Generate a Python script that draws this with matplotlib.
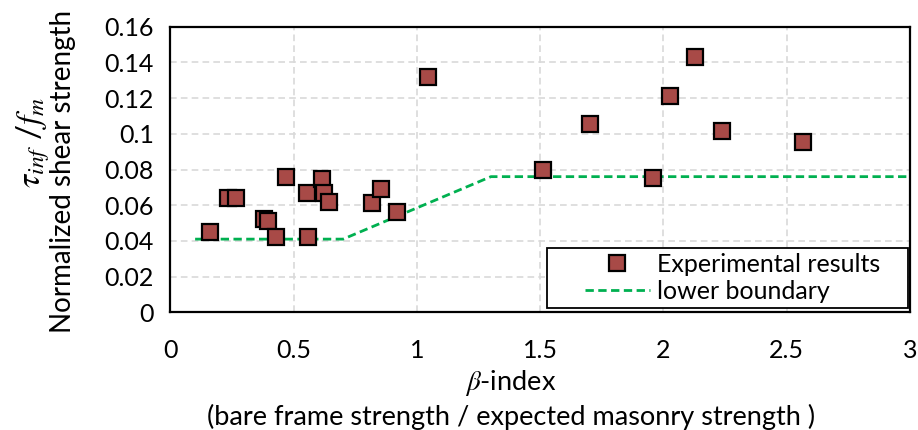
import matplotlib
matplotlib.use("Agg")
import matplotlib.pyplot as plt
from matplotlib.patches import Rectangle

plt.rcParams["font.family"] = ["Lato", "DejaVu Sans"]
plt.rcParams["mathtext.fontset"] = "stix"

# experimental points: beta-index vs normalized shear strength
beta = [0.16, 0.232, 0.266, 0.38, 0.395, 0.428, 0.467, 0.553, 0.559, 0.616,
        0.624, 0.643, 0.819, 0.854, 0.918, 1.046, 1.511, 1.702, 1.957, 2.025,
        2.128, 2.239, 2.567]
shear = [0.0452, 0.0642, 0.0642, 0.0522, 0.0512, 0.042, 0.0756, 0.067, 0.042, 0.0747,
         0.067, 0.062, 0.0611, 0.0691, 0.056, 0.1318, 0.0797, 0.1057, 0.0754, 0.121,
         0.1432, 0.1016, 0.0952]

# lower boundary (piecewise linear)
bound_x = [0.1, 0.7, 1.3, 3.0]
bound_y = [0.041, 0.041, 0.076, 0.076]

x_ticks = [0, 0.5, 1, 1.5, 2, 2.5, 3]
x_labels = ["0", "0.5", "1", "1.5", "2", "2.5", "3"]
y_ticks = [0, 0.02, 0.04, 0.06, 0.08, 0.1, 0.12, 0.14, 0.16]
y_labels = ["0", "0.02", "0.04", "0.06", "0.08", "0.1", "0.12", "0.14", "0.16"]

FS = 18        # ticks and legend
FS_TITLE = 19.5  # axis titles

fig = plt.figure(figsize=(9.18, 4.30), dpi=100)
ax = fig.add_axes([0.1857, 0.2737, 0.8056, 0.6642])

ax.plot(beta, shear, linestyle="none", marker="s", markersize=11,
        markerfacecolor="#A84A47", markeredgecolor="black", markeredgewidth=1.6,
        label="Experimental results", zorder=3)
ax.plot(bound_x, bound_y, linestyle=(0, (3, 1.6)), color="#00B050", linewidth=2,
        label="lower boundary", zorder=2)

ax.set_xlim(0, 3)
ax.set_ylim(0, 0.16)
ax.set_xticks(x_ticks)
ax.set_xticklabels(x_labels)
ax.set_yticks(y_ticks)
ax.set_yticklabels(y_labels)
ax.tick_params(length=0, labelsize=FS, colors="black")
ax.tick_params(axis="x", pad=19)
ax.tick_params(axis="y", pad=12)

ax.grid(True, color="#D9D9D9", linestyle=(0, (4, 2.5)), linewidth=1.2)
ax.set_axisbelow(True)
for spine in ax.spines.values():
    spine.set_linewidth(1.6)
    spine.set_color("black")

# x title: symbol line plus explanation underneath
ax.set_xlabel(r"$\beta$-index", fontsize=FS_TITLE, va="center")
ax.xaxis.set_label_coords(0.46, -0.248)
ax.text(0.46, -0.367, "(bare frame strength / expected masonry strength )",
        transform=ax.transAxes, fontsize=FS_TITLE, ha="center", va="center")

fig.text(0.036, 0.67, r"$\tau_{inf}$ /$f_m$", rotation=90, fontsize=24,
         ha="center", va="center")
fig.text(0.069, 0.602, "Normalized shear strength", rotation=90, fontsize=20,
         ha="center", va="center")

# legend box drawn separately so the entries sit right of centre
ax.add_patch(Rectangle((0.509, 0.015), 0.488, 0.21, transform=ax.transAxes,
                       facecolor="white", edgecolor="black", linewidth=1.3, zorder=4))
leg = ax.legend(loc="center left", bbox_to_anchor=(0.5605, 0.12), fontsize=FS,
                frameon=False, handlelength=2.6, handletextpad=0.3,
                borderpad=0, borderaxespad=0, labelspacing=0.15)
leg.set_zorder(5)

fig.savefig("out.png", dpi=100)
plt.close(fig)
